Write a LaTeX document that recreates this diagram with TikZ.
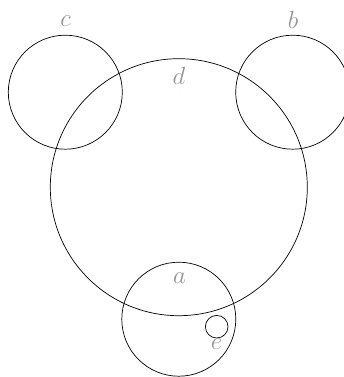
\documentclass[tikz,border=0pt]{standalone}
\begin{document}
\begin{tikzpicture}[x=1pt,y=-1pt,
  ring/.style={draw=black,line width=0.7pt,circle,inner sep=0pt},
  lbl/.style={text=black!42,font=\fontsize{23}{28}\selectfont,inner sep=0pt}]
\useasboundingbox (0,0) rectangle (343,377);
\node[ring,minimum size=257pt] (d) at (178.8,187.2) {};
\node[ring,minimum size=114pt] (c) at (65.3,92.2) {};
\node[ring,minimum size=114pt] (b) at (292.7,92.2) {};
\node[ring,minimum size=114pt] (a) at (178.8,319.2) {};
\node[ring,minimum size=22.6pt] (e) at (216.7,326.7) {};
\node[lbl] (lc) at (65.5,21) {$c$};
\node[lbl] (lb) at (293,20) {$b$};
\node[lbl] (ld) at (179,76) {$d$};
\node[lbl] (la) at (179.5,278) {$a$};
\node[lbl] (le) at (216.5,344) {$e$};
\fill[black!30] (179,93) circle (0.4pt);
\end{tikzpicture}
\end{document}
